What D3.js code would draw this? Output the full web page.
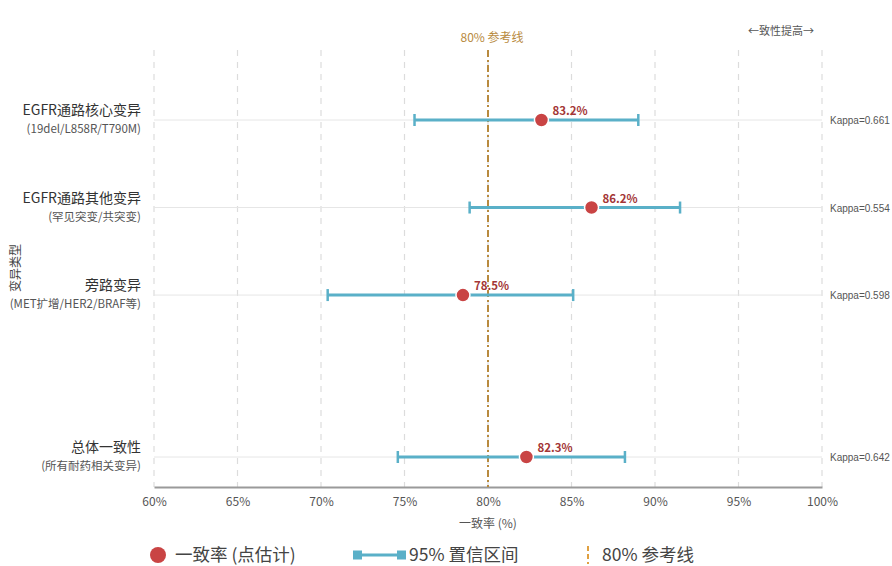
<!DOCTYPE html>
<html>
<head>
<meta charset="utf-8">
<script src="https://cdn.jsdelivr.net/npm/d3@7"></script>
<style>
  html, body { margin: 0; padding: 0; background: #fff; }
  svg { display: block; font-family: "Noto Sans CJK SC", "Noto Sans", sans-serif; }
</style>
</head>
<body>
<svg id="chart" width="892" height="566"></svg>
<script>
// Variant groups and their agreement estimates
const categories = ["EGFR通路核心变异", "EGFR通路其他变异", "旁路变异", "总体一致性"];
const subtitles = ["(19del/L858R/T790M)", "(罕见突变/共突变)", "(MET扩增/HER2/BRAF等)", "(所有耐药相关变异)"];
const estimates = [83.2, 86.2, 78.5, 82.3];
const ciLower = [75.6, 78.9, 70.4, 74.6];
const ciUpper = [89.0, 91.5, 85.1, 88.2];
const kappas = [0.661, 0.554, 0.598, 0.642];
const xTicks = [60, 65, 70, 75, 80, 85, 90, 95, 100];
const referenceValue = 80;

const svg = d3.select("#chart");
const margin = { left: 154, right: 70, top: 50, bottom: 79 };
const width = 892, height = 566;

const x = d3.scaleLinear().domain([60, 100]).range([margin.left, width - margin.right]);

// Row slots: the overall row sits a little apart from the subgroups
const slotOf = (i) => i < 3 ? i : i + 0.85;
const y = d3.scaleLinear().domain([0, 3.85]).range([120, 457]);

const plotTop = margin.top, plotBottom = height - margin.bottom;

// vertical dashed grid
svg.append("g").selectAll("line").data(xTicks).join("line")
  .attr("x1", d => x(d)).attr("x2", d => x(d))
  .attr("y1", plotTop).attr("y2", plotBottom)
  .attr("stroke", "#dcdcdc").attr("stroke-width", 1.2)
  .attr("stroke-dasharray", "6,6");

// faint horizontal row guides
svg.append("g").selectAll("line").data(categories).join("line")
  .attr("x1", x(60)).attr("x2", x(100))
  .attr("y1", (d, i) => y(slotOf(i))).attr("y2", (d, i) => y(slotOf(i)))
  .attr("stroke", "#e6e6e6").attr("stroke-width", 1);

// x axis
const xAxis = d3.axisBottom(x).tickValues(xTicks).tickFormat(d => d + "%").tickSize(0).tickPadding(10);
const gx = svg.append("g").attr("transform", `translate(0,${plotBottom})`).call(xAxis);
gx.select(".domain").attr("stroke", "#9a9a9a").attr("stroke-width", 2);
gx.selectAll("text").attr("font-size", 12).attr("fill", "#555")
  .attr("font-family", "'Noto Sans CJK SC', sans-serif");

svg.append("text").attr("x", x(80)).attr("y", 528).attr("text-anchor", "middle")
  .attr("font-size", 12).attr("fill", "#555").text("一致率 (%)");

// 80% reference line
svg.append("line")
  .attr("x1", x(referenceValue)).attr("x2", x(referenceValue))
  .attr("y1", plotTop).attr("y2", plotBottom)
  .attr("stroke", "#b88a3e").attr("stroke-width", 2)
  .attr("stroke-dasharray", "7,3,2,3");
svg.append("text").attr("x", x(referenceValue) + 4).attr("y", 42).attr("text-anchor", "middle")
  .attr("font-size", 12).attr("fill", "#b88a3e").text("80% 参考线");

svg.append("text").attr("x", 781).attr("y", 35).attr("text-anchor", "middle")
  .attr("font-size", 11).attr("fill", "#555").text("←致性提高→");

// confidence intervals
const ciColor = "#5ab0c8";
const rows = svg.append("g").selectAll("g").data(categories).join("g")
  .attr("transform", (d, i) => `translate(0,${y(slotOf(i))})`);

rows.append("line")
  .attr("x1", (d, i) => x(ciLower[i])).attr("x2", (d, i) => x(ciUpper[i]))
  .attr("stroke", ciColor).attr("stroke-width", 3);
rows.append("line")
  .attr("x1", (d, i) => x(ciLower[i])).attr("x2", (d, i) => x(ciLower[i]))
  .attr("y1", -6).attr("y2", 6).attr("stroke", ciColor).attr("stroke-width", 2.5);
rows.append("line")
  .attr("x1", (d, i) => x(ciUpper[i])).attr("x2", (d, i) => x(ciUpper[i]))
  .attr("y1", -6).attr("y2", 6).attr("stroke", ciColor).attr("stroke-width", 2.5);

// point estimates
rows.append("circle")
  .attr("cx", (d, i) => x(estimates[i])).attr("r", 7)
  .attr("fill", "#c94444").attr("stroke", "#fff").attr("stroke-width", 1.5);
rows.append("text")
  .attr("x", (d, i) => x(estimates[i]) + 11).attr("y", -5)
  .attr("font-size", 11.5).attr("font-weight", "bold").attr("fill", "#a33636")
  .text((d, i) => estimates[i].toFixed(1) + "%");

// kappa annotations
rows.append("text")
  .attr("x", 830).attr("y", 4)
  .attr("font-size", 10).attr("fill", "#555")
  .attr("font-family", "'Liberation Sans', Arial, sans-serif")
  .text((d, i) => "Kappa=" + kappas[i].toFixed(3));

// category labels
rows.append("text")
  .attr("x", 141).attr("y", -5).attr("text-anchor", "end")
  .attr("font-size", 14).attr("fill", "#333").text(d => d);
rows.append("text")
  .attr("x", 141).attr("y", 13).attr("text-anchor", "end")
  .attr("font-size", 11.5).attr("fill", "#555").text((d, i) => subtitles[i]);

// y axis title
svg.append("text")
  .attr("transform", "translate(20,268) rotate(-90)")
  .attr("text-anchor", "middle").attr("font-size", 12).attr("fill", "#444")
  .text("变异类型");

// legend
const lg = svg.append("g").attr("transform", "translate(0,555)");
lg.append("circle").attr("cx", 158).attr("cy", 0).attr("r", 8).attr("fill", "#c94444");
lg.append("text").attr("x", 175).attr("y", 6).attr("font-size", 17.5).attr("fill", "#444").text("一致率 (点估计)");
lg.append("line").attr("x1", 357).attr("x2", 402).attr("y1", 0).attr("y2", 0)
  .attr("stroke", ciColor).attr("stroke-width", 3);
lg.append("rect").attr("x", 353).attr("y", -4.5).attr("width", 9).attr("height", 9).attr("fill", ciColor);
lg.append("rect").attr("x", 397).attr("y", -4.5).attr("width", 9).attr("height", 9).attr("fill", ciColor);
lg.append("text").attr("x", 409).attr("y", 6).attr("font-size", 17.5).attr("fill", "#444").text("95% 置信区间");
lg.append("line").attr("x1", 588).attr("x2", 588).attr("y1", -9).attr("y2", 9)
  .attr("stroke", "#e0a040").attr("stroke-width", 2).attr("stroke-dasharray", "5,3");
lg.append("text").attr("x", 602).attr("y", 6).attr("font-size", 17.5).attr("fill", "#444").text("80% 参考线");
</script>
</body>
</html>
